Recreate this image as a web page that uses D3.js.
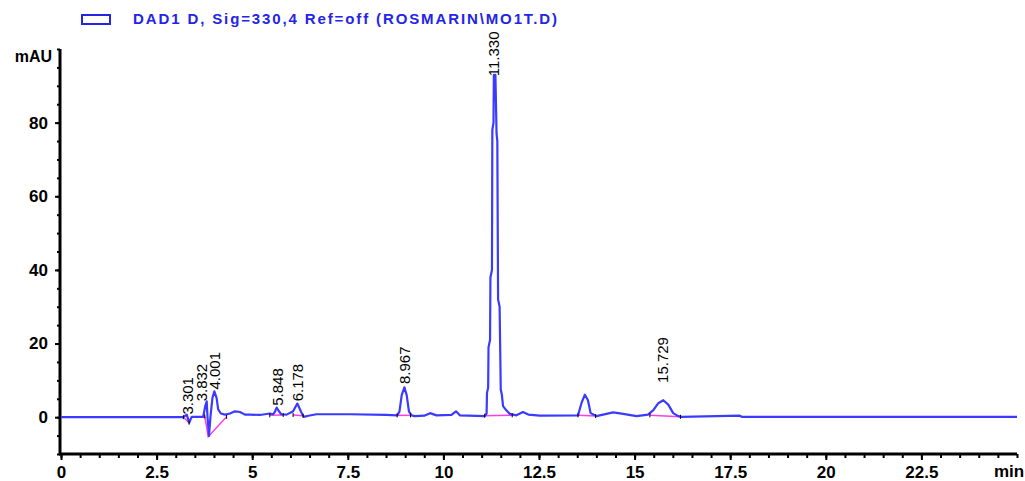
<!DOCTYPE html>
<html>
<head>
<meta charset="utf-8">
<script src="https://cdn.jsdelivr.net/npm/d3@7"></script>
<style>
  body { margin: 0; background: #fff; }
  svg { display: block; font-family: "Liberation Sans", Arial, sans-serif; }
</style>
</head>
<body>
<div id="chart"></div>
<script>
const FRAME_WIDTH = 1025;
const FRAME_HEIGHT = 481;

// chromatogram trace: [min, mAU]
const traceTime = [0, 3.2, 3.29, 3.35, 3.42, 3.72, 3.77, 3.81, 3.83, 3.87, 3.91, 3.96, 4.01, 4.07, 4.11, 4.18, 4.29, 4.42, 4.55, 4.68, 4.81, 4.94, 5.2, 5.46, 5.55, 5.6, 5.64, 5.7, 5.76, 5.9, 6.07, 6.18, 6.29, 6.35, 6.47, 6.68, 7.56, 8.5, 8.79, 8.85, 8.91, 8.98, 9.04, 9.1, 9.17, 9.25, 9.5, 9.65, 9.82, 10.21, 10.33, 10.43, 11.08, 11.13, 11.14, 11.17, 11.18, 11.22, 11.23, 11.27, 11.28, 11.31, 11.32, 11.36, 11.39, 11.41, 11.43, 11.47, 11.5, 11.53, 11.56, 11.65, 11.74, 11.91, 12.08, 12.22, 12.52, 13.52, 13.61, 13.7, 13.78, 13.85, 14.0, 14.44, 14.7, 15.05, 15.35, 15.49, 15.62, 15.75, 15.88, 16.01, 16.14, 16.23, 17.75, 17.8, 25];
const traceValue = [0, 0, 0.7, -1.5, 0.1, 0.1, 2.9, 4.3, 0.3, -5.1, 0.3, 5.2, 7.0, 5.2, 2.1, 1.0, 0.7, 1.0, 1.6, 1.4, 0.7, 0.7, 0.6, 1.0, 0.8, 1.6, 2.6, 1.6, 0.8, 0.7, 1.6, 3.7, 1.2, 0.1, 0.4, 0.8, 0.8, 0.6, 0.5, 1.5, 6.0, 8.1, 6.0, 1.5, 0.5, 0.3, 0.4, 1.1, 0.5, 0.6, 1.6, 0.5, 0.3, 1.0, 6.6, 8, 19, 21, 38, 40, 78, 80, 93, 93, 77, 75, 32, 30, 7.5, 6, 3, 1.8, 0.9, 0.5, 1.4, 0.7, 0.4, 0.5, 3.8, 6.1, 4.6, 1.1, 0.3, 1.3, 0.9, 0.3, 0.7, 1.9, 3.8, 4.6, 3.4, 1.1, 0.3, 0.1, 0.4, 0.1, 0.1];

// integration baselines (pink), each a list of [min, mAU]
const baselines = [
  [[3.2, 0], [3.35, -1.5]],
  [[3.76, 0.2], [3.85, -5.3], [4.33, 0.1]],
  [[5.46, 0.5], [5.81, 0.6]],
  [[6.07, 0.6], [6.33, 0.4]],
  [[8.79, 0.5], [9.14, 0.5]],
  [[11.08, 0.4], [11.8, 0.5]],
  [[13.52, 0.5], [13.98, 0.3]],
  [[15.4, 0.5], [16.2, 0.1]]
];

// peak labels: text, position (min), foot of label (mAU)
const peakLabels = ["3.301", "3.832", "4.001", "5.848", "6.178", "8.967", "11.330", "15.729"];
const peakLabelTime = [3.32, 3.68, 4.03, 5.66, 6.18, 8.99, 11.32, 15.73];
const peakLabelFoot = [0.7, 4.3, 7.5, 3.1, 4.3, 9.0, 92.6, 9.3];

const xMajorTicks = [0, 2.5, 5, 7.5, 10, 12.5, 15, 17.5, 20, 22.5];
const yMajorTicks = [0, 20, 40, 60, 80];
const xMinorTicks = d3.range(0, 25.01, 0.5);
const yMinorTicks = d3.range(-10, 100.01, 5);

const legendText = "DAD1 D, Sig=330,4 Ref=off (ROSMARIN\\MO1T.D)";

const BLUE = "#3b3bff";
const PINK = "#ff3ee6";

const svg = d3.select("#chart")
  .append("svg")
  .attr("width", FRAME_WIDTH)
  .attr("height", FRAME_HEIGHT);

const X_SCALE = d3.scaleLinear().domain([0, 25]).range([61, 1017]);
const Y_SCALE = d3.scaleLinear().domain([-10, 100]).range([454, 49]);

// legend
svg.append("rect")
  .attr("x", 82).attr("y", 15)
  .attr("width", 28).attr("height", 9)
  .attr("fill", "none")
  .attr("stroke", "#2424e8")
  .attr("stroke-width", 2);

svg.append("text")
  .attr("x", 133).attr("y", 24)
  .attr("fill", "#2424e8")
  .attr("font-size", "15px")
  .attr("font-weight", "bold")
  .attr("textLength", 424)
  .attr("lengthAdjust", "spacing")
  .text(legendText);

// minor ticks
svg.append("g")
  .attr("transform", "translate(0,454)")
  .call(d3.axisBottom(X_SCALE).tickValues(xMinorTicks).tickSize(4).tickFormat(""))
  .call(g => g.select(".domain").remove())
  .call(g => g.selectAll("line").attr("stroke-width", 2));

svg.append("g")
  .attr("transform", "translate(60,0)")
  .call(d3.axisLeft(Y_SCALE).tickValues(yMinorTicks).tickSize(3).tickFormat(""))
  .call(g => g.select(".domain").remove())
  .call(g => g.selectAll("line").attr("stroke-width", 2));

// major axes
const xAxis = svg.append("g")
  .attr("transform", "translate(0,454)")
  .call(d3.axisBottom(X_SCALE).tickValues(xMajorTicks).tickSize(6).tickSizeOuter(0).tickPadding(6).tickFormat(d => String(d)));
xAxis.select(".domain").attr("stroke-width", 3).attr("d", "M59,0H1017");
xAxis.selectAll("line").attr("stroke-width", 2);
xAxis.selectAll("text").attr("font-size", "17px").attr("font-weight", "bold").attr("font-family", "Liberation Sans, Arial, sans-serif");

const yAxis = svg.append("g")
  .attr("transform", "translate(60,0)")
  .call(d3.axisLeft(Y_SCALE).tickValues(yMajorTicks).tickSize(5).tickSizeOuter(0).tickPadding(7));
yAxis.select(".domain").attr("stroke-width", 3).attr("d", "M0,49V455");
yAxis.selectAll("line").attr("stroke-width", 2);
yAxis.selectAll("text").attr("font-size", "17px").attr("font-weight", "bold").attr("font-family", "Liberation Sans, Arial, sans-serif");

svg.append("text")
  .attr("x", 52).attr("y", 62)
  .attr("text-anchor", "end")
  .attr("font-size", "16px").attr("font-weight", "bold")
  .text("mAU");

svg.append("text")
  .attr("x", 994).attr("y", 477)
  .attr("font-size", "17px").attr("font-weight", "bold")
  .text("min");

// integration baselines
const line = d3.line().x(d => X_SCALE(d[0])).y(d => Y_SCALE(d[1]));

svg.selectAll(".baseline")
  .data(baselines)
  .enter()
  .append("path")
  .attr("class", "baseline")
  .attr("d", line)
  .attr("fill", "none")
  .attr("stroke", PINK)
  .attr("stroke-width", 1.5);

// trace
const trace = traceTime.map((t, i) => [t, traceValue[i]]);
svg.append("path")
  .datum(trace)
  .attr("d", line)
  .attr("fill", "none")
  .attr("stroke", BLUE)
  .attr("stroke-width", 2.2)
  .attr("stroke-linejoin", "round");

// peak start/end marks
const ends = baselines.flatMap(b => [b[0], b[b.length - 1]]);
svg.selectAll(".endmark")
  .data(ends)
  .enter()
  .append("line")
  .attr("x1", d => X_SCALE(d[0])).attr("x2", d => X_SCALE(d[0]))
  .attr("y1", d => Y_SCALE(d[1]) - 2).attr("y2", d => Y_SCALE(d[1]) + 2)
  .attr("stroke", "#000")
  .attr("stroke-width", 1);

// peak labels
svg.selectAll(".peaklabel")
  .data(peakLabels)
  .enter()
  .append("text")
  .attr("class", "peaklabel")
  .attr("transform", (d, i) => "translate(" + X_SCALE(peakLabelTime[i]) + "," + Y_SCALE(peakLabelFoot[i]) + ") rotate(-90)")
  .attr("dy", "0.35em")
  .attr("font-size", "15px")
  .attr("fill", "#000")
  .text(d => d);
</script>
</body>
</html>
